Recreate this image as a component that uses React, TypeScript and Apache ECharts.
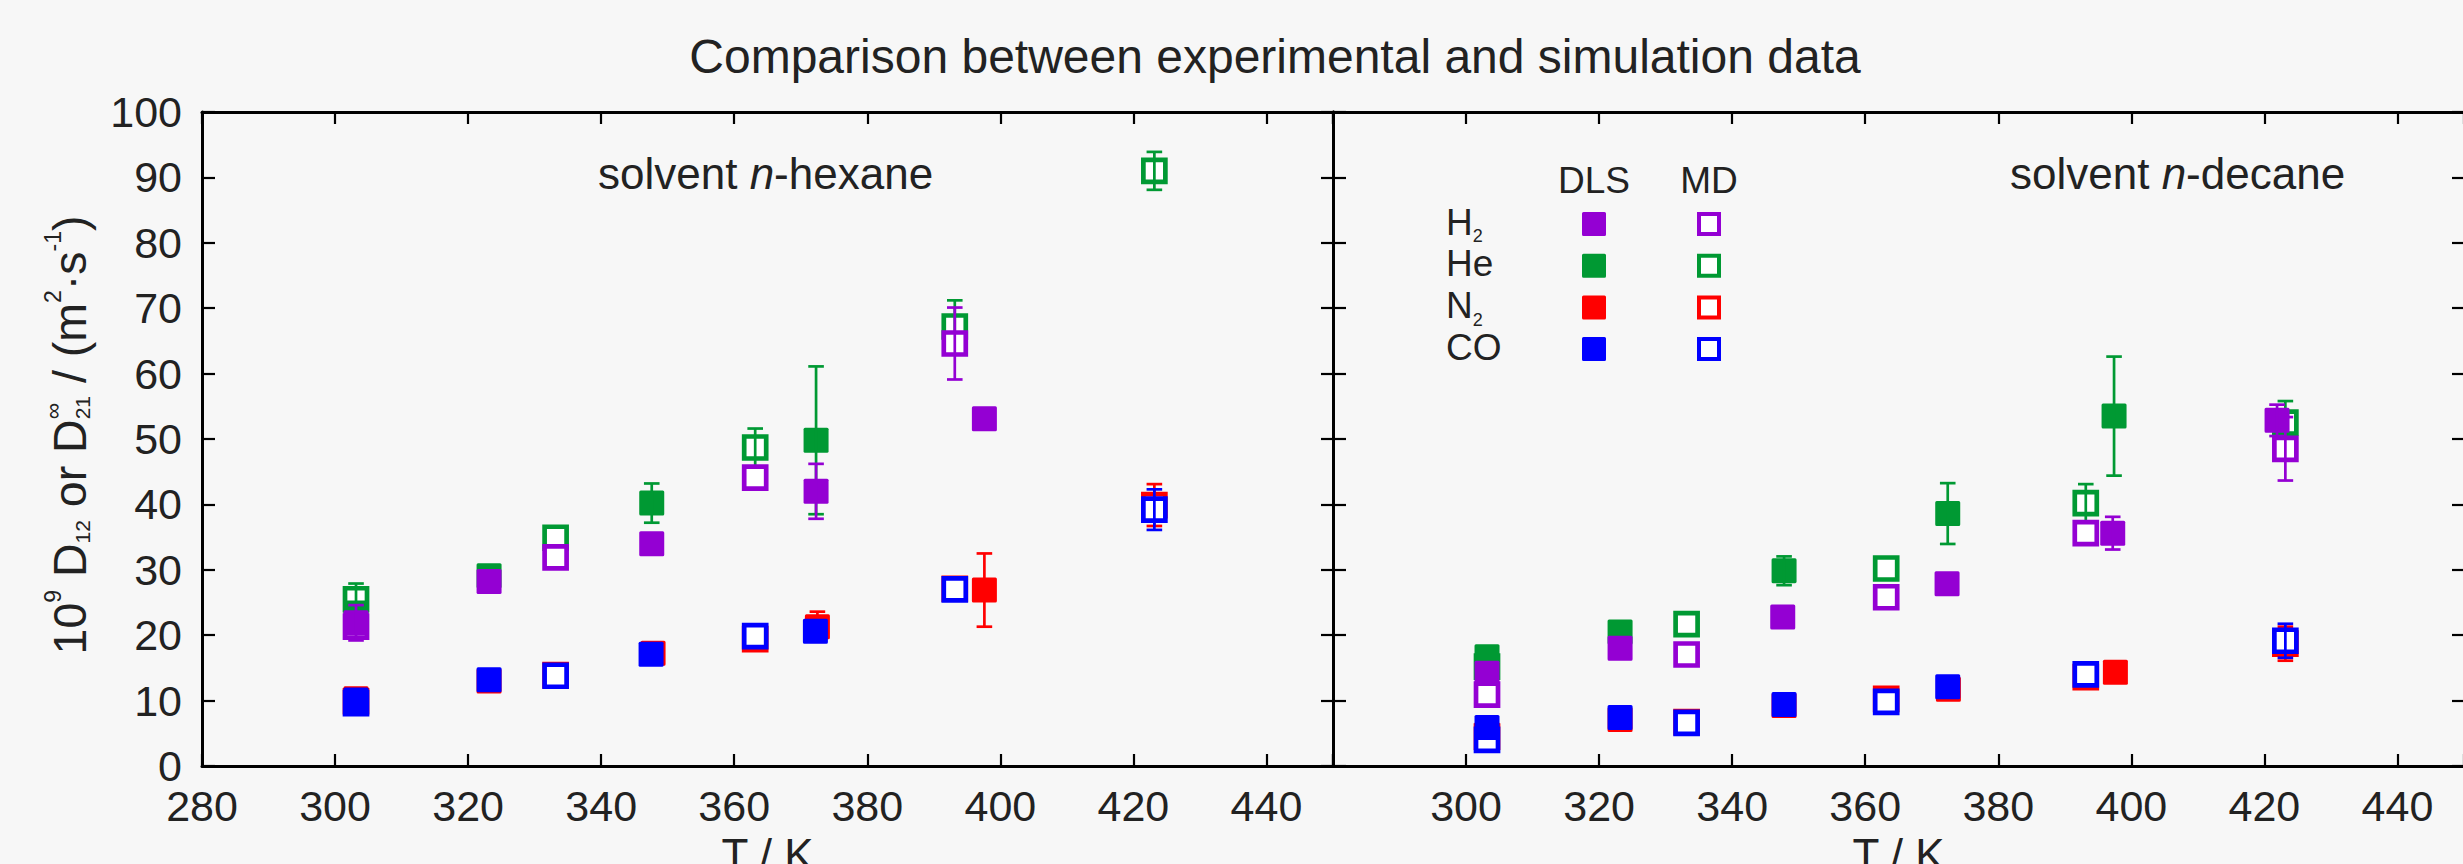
import React, { useEffect, useRef } from "react";
import * as echarts from "echarts";

const WIDTH = 2463;
const HEIGHT = 864;
const FONT = "Liberation Sans";
const TEXT = "#222222";
const BG = "#f7f7f7";

const PURPLE = "#9400d3";
const GREEN = "#009933";
const RED = "#ff0000";
const BLUE = "#0000ff";

// axis ticks
const temperatureTicks = [280, 300, 320, 340, 360, 380, 400, 420, 440];
const T_MAX = 450;
const diffusionTicks = [0, 10, 20, 30, 40, 50, 60, 70, 80, 90, 100];

const chartTitle = "Comparison between experimental and simulation data";
const xAxisTitle = "T / K";
const legendHeaders = ["DLS", "MD"];
const solventNames = ["hexane", "decane"];

// data rows: [T / K, 10^9 D / (m^2 s^-1), error bar half-width]
const hexane_H2_DLS = [[303.15, 21.9, 2.7], [323.15, 28.2, 0], [347.6, 34.0, 0], [372.3, 42.0, 4.2], [397.6, 53.1, 0]];
const hexane_H2_MD = [[303.15, 21.3, 0], [333.15, 31.9, 0], [363.15, 44.1, 0], [393.15, 64.6, 5.5]];
const hexane_He_DLS = [[303.15, 23.4, 0], [323.15, 29.1, 0], [347.6, 40.2, 3.0], [372.3, 49.8, 11.3]];
const hexane_He_MD = [[303.15, 25.5, 2.4], [333.15, 34.9, 0], [363.15, 48.7, 2.9], [393.15, 67.2, 4.0], [423.15, 91.0, 2.9]];
const hexane_N2_DLS = [[303.15, 10.3, 0], [323.15, 13.0, 0], [347.8, 17.25, 0], [372.5, 21.3, 2.3], [397.6, 26.9, 5.6]];
const hexane_N2_MD = [[303.15, 9.9, 0], [333.15, 13.9, 0], [363.15, 19.4, 0], [393.15, 27.1, 0], [423.15, 39.9, 3.2]];
const hexane_CO_DLS = [[303.15, 10.1, 0], [323.15, 13.2, 0], [347.5, 17.1, 0], [372.2, 20.6, 0]];
const hexane_CO_MD = [[303.15, 9.6, 0], [333.15, 13.8, 0], [363.15, 19.85, 0], [393.15, 27.0, 0], [423.15, 39.2, 3.1]];

const decane_H2_DLS = [[303.15, 14.2, 0], [323.15, 18.0, 0], [347.6, 22.8, 0], [372.3, 27.85, 0], [397.2, 35.6, 2.5], [421.9, 52.85, 2.4]];
const decane_H2_MD = [[303.15, 10.9, 0], [333.15, 17.05, 0], [363.15, 25.8, 0], [393.15, 35.6, 0], [423.15, 48.5, 4.85]];
const decane_He_DLS = [[303.15, 16.7, 0], [323.15, 20.5, 0], [347.8, 29.85, 2.2], [372.4, 38.6, 4.65], [397.4, 53.5, 9.1]];
const decane_He_MD = [[303.15, 15.2, 0], [333.15, 21.7, 0], [363.15, 30.2, 0], [393.15, 40.2, 2.9], [423.15, 52.5, 3.3]];
const decane_N2_DLS = [[303.15, 4.8, 0], [323.15, 7.1, 0], [347.8, 9.25, 0], [372.5, 11.75, 0], [397.6, 14.35, 0]];
const decane_N2_MD = [[303.15, 4.5, 0], [333.15, 6.7, 0], [363.15, 10.25, 0], [393.15, 13.6, 0], [423.15, 18.7, 2.6]];
const decane_CO_DLS = [[303.15, 5.9, 0], [323.15, 7.4, 0], [347.8, 9.4, 0], [372.4, 12.1, 0]];
const decane_CO_MD = [[303.15, 4.0, 0], [333.15, 6.6, 0], [363.15, 9.8, 0], [393.15, 14.0, 0], [423.15, 19.15, 2.6]];

const gases = [
  { id: "H2", main: "H", sub: "2", color: PURPLE },
  { id: "He", main: "He", sub: "", color: GREEN },
  { id: "N2", main: "N", sub: "2", color: RED },
  { id: "CO", main: "CO", sub: "", color: BLUE },
];
const drawOrder = ["He", "H2", "N2", "CO"];

const panelData: Record<string, { DLS: number[][]; MD: number[][] }>[] = [
  {
    H2: { DLS: hexane_H2_DLS, MD: hexane_H2_MD },
    He: { DLS: hexane_He_DLS, MD: hexane_He_MD },
    N2: { DLS: hexane_N2_DLS, MD: hexane_N2_MD },
    CO: { DLS: hexane_CO_DLS, MD: hexane_CO_MD },
  },
  {
    H2: { DLS: decane_H2_DLS, MD: decane_H2_MD },
    He: { DLS: decane_He_DLS, MD: decane_He_MD },
    N2: { DLS: decane_N2_DLS, MD: decane_N2_MD },
    CO: { DLS: decane_CO_DLS, MD: decane_CO_MD },
  },
];

// y-axis title pieces: text, font size, baseline shift (negative = raised); stack = share position with next
const yTitleParts = [
  { t: "10", s: 46.5, dy: 0 },
  { t: "9", s: 23, dy: -25 },
  { t: " D", s: 46.5, dy: 0 },
  { t: "12", s: 21, dy: 4 },
  { t: " or D", s: 46.5, dy: 0 },
  { t: "\u221E", s: 23, dy: -25, stack: true },
  { t: "21", s: 21, dy: 4 },
  { t: " / (m", s: 46.5, dy: 0 },
  { t: "2", s: 23, dy: -25 },
  { t: "\u00B7s", s: 46.5, dy: 0 },
  { t: "-1", s: 23, dy: -25 },
  { t: ")", s: 46.5, dy: 0 },
];

const MARK_FILLED = 25;
const MARK_OPEN = 22;
const MARK_OPEN_BORDER = 4.7;
const ERR_WIDTH = 2.7;
const CAP_HALF = 7.8;

function makeRenderer(color: string, filled: boolean) {
  return (params: any, api: any) => {
    const x = api.value(0);
    const y = api.value(1);
    const e = api.value(2);
    const c = api.coord([x, y]);
    const cx = c[0];
    const cy = c[1];
    const children: any[] = [];
    if (filled) {
      children.push({
        type: "rect",
        shape: { x: cx - MARK_FILLED / 2, y: cy - MARK_FILLED / 2, width: MARK_FILLED, height: MARK_FILLED, r: 1.5 },
        style: { fill: color },
      });
    } else {
      children.push({
        type: "rect",
        shape: { x: cx - MARK_OPEN / 2, y: cy - MARK_OPEN / 2, width: MARK_OPEN, height: MARK_OPEN },
        style: { fill: "#ffffff", stroke: color, lineWidth: MARK_OPEN_BORDER },
      });
    }
    if (e > 0) {
      const top = api.coord([x, y + e])[1];
      const bot = api.coord([x, y - e])[1];
      const st = { stroke: color, lineWidth: ERR_WIDTH };
      children.push({ type: "line", shape: { x1: cx, y1: top, x2: cx, y2: bot }, style: st });
      children.push({ type: "line", shape: { x1: cx - CAP_HALF, y1: top, x2: cx + CAP_HALF, y2: top }, style: st });
      children.push({ type: "line", shape: { x1: cx - CAP_HALF, y1: bot, x2: cx + CAP_HALF, y2: bot }, style: st });
    }
    return { type: "group", children };
  };
}

function textWidth(ctx: CanvasRenderingContext2D | null, t: string, size: number, style = "normal") {
  if (!ctx) return t.length * size * 0.55;
  ctx.font = `${style} ${size}px "${FONT}"`;
  return ctx.measureText(t).width;
}

const CENTRAL = 0.3465; // central baseline offset (em) above alphabetic

function buildOption() {
  const ctx = document.createElement("canvas").getContext("2d");
  const GRID_TOP = 112;
  const GRID_H = 654;
  const GRID_W = 1131;
  const gridLefts = [202, 1333];

  const axisLine = { show: true, onZero: false, lineStyle: { color: "#000000", width: 3 } };
  const tick = (len: number) => ({ show: true, inside: true, length: len, lineStyle: { color: "#000000", width: 2.2 } });
  const xInterval = temperatureTicks[1] - temperatureTicks[0];
  const yInterval = diffusionTicks[1] - diffusionTicks[0];

  const xAxes: any[] = [];
  const yAxes: any[] = [];
  [0, 1].forEach((p) => {
    xAxes.push({
      type: "value",
      gridIndex: p,
      position: "bottom",
      min: temperatureTicks[0],
      max: T_MAX,
      interval: xInterval,
      axisLine,
      axisTick: tick(12),
      splitLine: { show: false },
      axisLabel: {
        show: true,
        fontSize: 43,
        fontFamily: FONT,
        color: TEXT,
        margin: 18,
        formatter: (v: number) =>
          temperatureTicks.includes(v) && (p === 0 || v !== temperatureTicks[0]) ? String(v) : "",
      },
      name: xAxisTitle,
      nameLocation: "middle",
      nameGap: 66,
      nameTextStyle: { fontSize: 44, fontFamily: FONT, color: TEXT },
    });
    xAxes.push({
      type: "value",
      gridIndex: p,
      position: "top",
      min: temperatureTicks[0],
      max: T_MAX,
      interval: xInterval,
      axisLine,
      axisTick: tick(12),
      splitLine: { show: false },
      axisLabel: { show: false },
    });
    yAxes.push({
      type: "value",
      gridIndex: p,
      position: "left",
      min: diffusionTicks[0],
      max: diffusionTicks[diffusionTicks.length - 1],
      interval: yInterval,
      axisLine,
      axisTick: tick(13),
      splitLine: { show: false },
      axisLabel: {
        show: p === 0,
        fontSize: 43,
        fontFamily: FONT,
        color: TEXT,
        margin: 20,
      },
    });
    yAxes.push({
      type: "value",
      gridIndex: p,
      position: "right",
      min: diffusionTicks[0],
      max: diffusionTicks[diffusionTicks.length - 1],
      interval: yInterval,
      axisLine,
      axisTick: tick(12),
      splitLine: { show: false },
      axisLabel: { show: false },
    });
  });

  const series: any[] = [];
  [0, 1].forEach((p) => {
    drawOrder.forEach((gid) => {
      const gas = gases.find((g) => g.id === gid)!;
      (["MD", "DLS"] as const).forEach((method) => {
        series.push({
          type: "custom",
          name: `${gid} ${method} ${solventNames[p]}`,
          coordinateSystem: "cartesian2d",
          xAxisIndex: p * 2,
          yAxisIndex: p * 2,
          clip: false,
          renderItem: makeRenderer(gas.color, method === "DLS"),
          data: panelData[p][gid][method],
        });
      });
    });
  });

  const graphics: any[] = [];
  // title
  graphics.push({
    type: "text",
    x: 1275,
    y: 72.7 - CENTRAL * 48,
    style: { text: chartTitle, fontSize: 48, fontFamily: FONT, fill: TEXT, align: "center", verticalAlign: "middle" },
  });
  // solvent labels
  const solventX = [598, 2010];
  solventNames.forEach((s, i) => {
    graphics.push({
      type: "text",
      x: solventX[i],
      y: 188.3 - CENTRAL * 44,
      style: {
        text: `{a|solvent }{i|n}{a|-${s}}`,
        fill: TEXT,
        align: "left",
        verticalAlign: "middle",
        rich: {
          a: { fontSize: 44, fontFamily: FONT, fill: TEXT },
          i: { fontSize: 44, fontFamily: FONT, fontStyle: "italic", fill: TEXT },
        },
      },
    });
  });

  // y-axis title (rotated)
  const yChildren: any[] = [];
  let pos = 0;
  for (let i = 0; i < yTitleParts.length; i++) {
    const part: any = yTitleParts[i];
    const w = textWidth(ctx, part.t, part.s);
    yChildren.push({
      type: "text",
      x: pos,
      y: part.dy - CENTRAL * part.s,
      style: { text: part.t, fontSize: part.s, fontFamily: FONT, fill: TEXT, align: "left", verticalAlign: "middle" },
    });
    if (part.stack) {
      const nxt: any = yTitleParts[i + 1];
      const w2 = textWidth(ctx, nxt.t, nxt.s);
      yChildren.push({
        type: "text",
        x: pos,
        y: nxt.dy - CENTRAL * nxt.s,
        style: { text: nxt.t, fontSize: nxt.s, fontFamily: FONT, fill: TEXT, align: "left", verticalAlign: "middle" },
      });
      pos += Math.max(w, w2);
      i++;
    } else {
      pos += w;
    }
  }
  graphics.push({
    type: "group",
    x: 86,
    y: 435 + pos / 2,
    rotation: Math.PI / 2,
    children: yChildren,
  });

  // legend
  const LEG_LABEL_X = 1446;
  const LEG_COL_X = [1594, 1709];
  const LEG_HEADER_BASE = 193.3;
  const LEG_ROW0_BASE = 235;
  const LEG_ROW_STEP = 41.7;
  const LEG_FS = 37;
  legendHeaders.forEach((h, i) => {
    graphics.push({
      type: "text",
      x: LEG_COL_X[i],
      y: LEG_HEADER_BASE - CENTRAL * LEG_FS,
      style: { text: h, fontSize: LEG_FS, fontFamily: FONT, fill: TEXT, align: "center", verticalAlign: "middle" },
    });
  });
  gases.forEach((g, r) => {
    const base = LEG_ROW0_BASE + r * LEG_ROW_STEP;
    graphics.push({
      type: "text",
      x: LEG_LABEL_X,
      y: base - CENTRAL * LEG_FS,
      style: { text: g.main, fontSize: LEG_FS, fontFamily: FONT, fill: TEXT, align: "left", verticalAlign: "middle" },
    });
    if (g.sub) {
      const mw = textWidth(ctx, g.main, LEG_FS);
      graphics.push({
        type: "text",
        x: LEG_LABEL_X + mw,
        y: base + 7.7 - CENTRAL * 18,
        style: { text: g.sub, fontSize: 18, fontFamily: FONT, fill: TEXT, align: "left", verticalAlign: "middle" },
      });
    }
    const my = base - 11;
    graphics.push({
      type: "rect",
      shape: { x: LEG_COL_X[0] - 12, y: my - 12, width: 24, height: 24, r: 1.5 },
      style: { fill: g.color },
    });
    graphics.push({
      type: "rect",
      shape: { x: LEG_COL_X[1] - 10, y: my - 10, width: 20, height: 20 },
      style: { fill: "#ffffff", stroke: g.color, lineWidth: 4 },
    });
  });

  return {
    animation: false,
    backgroundColor: BG,
    textStyle: { fontFamily: FONT },
    grid: gridLefts.map((l) => ({
      left: l,
      top: GRID_TOP,
      width: GRID_W,
      height: GRID_H,
      show: false,
      containLabel: false,
      outerBoundsMode: "none",
    })),
    xAxis: xAxes,
    yAxis: yAxes,
    series,
    graphic: { elements: graphics },
  };
}

export default function App() {
  const ref = useRef<HTMLDivElement>(null);
  useEffect(() => {
    document.body.style.margin = "0";
    document.body.style.background = BG;
    if (!ref.current) return;
    const chart = echarts.init(ref.current, undefined, { renderer: "svg" });
    chart.setOption(buildOption() as any);
    return () => {
      chart.dispose();
    };
  }, []);
  return (
    <div
      ref={ref}
      style={{ position: "fixed", left: 0, top: 0, width: WIDTH, height: HEIGHT, background: BG }}
    />
  );
}
